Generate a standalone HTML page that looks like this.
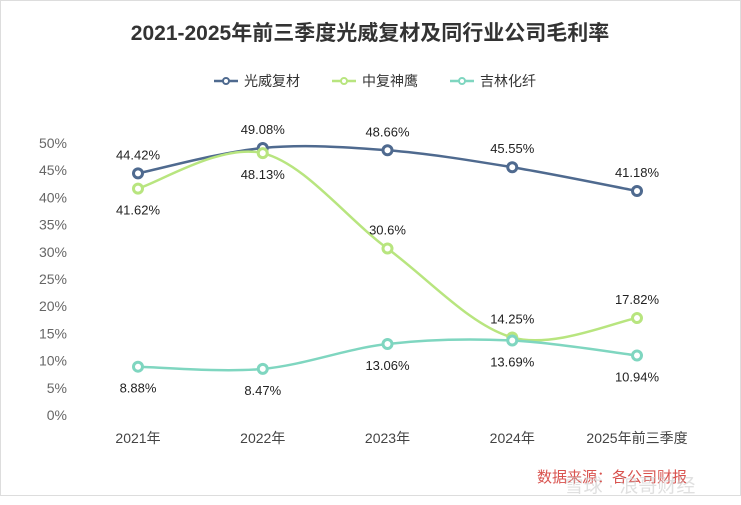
<!DOCTYPE html>
<html><head><meta charset="utf-8"><style>
body{margin:0;background:#fff;}
svg{display:block;font-family:"Liberation Sans","Noto Sans CJK SC",sans-serif;}
</style></head><body>
<svg id="chart" width="741" height="505">
<rect x="0.5" y="0.5" width="740" height="495" fill="#fff" stroke="#ddd"/>
<text x="370" y="40" text-anchor="middle" font-size="21" font-weight="bold" fill="#333">2021-2025年前三季度光威复材及同行业公司毛利率</text>
<g id="legend"></g>
<g id="yaxis"></g>
<g id="xaxis"></g>
<g id="series"></g>
<text x="612" y="482" text-anchor="middle" font-size="15" fill="#d9534f">数据来源：各公司财报</text>
<text x="630" y="492" text-anchor="middle" font-size="19" fill="#ccc" opacity="0.6">雪球 · 浪哥财经</text>
</svg>
<script>
const categories=["2021年","2022年","2023年","2024年","2025年前三季度"];
const names=["光威复材","中复神鹰","吉林化纤"];
const s1=[44.42,49.08,48.66,45.55,41.18];
const s2=[41.62,48.13,30.6,14.25,17.82];
const s3=[8.88,8.47,13.06,13.69,10.94];
const yTicks=[0,5,10,15,20,25,30,35,40,45,50];
const colors=["#4f6a8f","#b8e57f","#7fd6c0"];
const NS="http://www.w3.org/2000/svg";
const X=i=>138+i*124.75;
const Y=v=>415-v*5.44;
function mk(tag,attrs,parent,txt){const e=document.createElementNS(NS,tag);for(const k in attrs)e.setAttribute(k,attrs[k]);if(txt!==undefined)e.textContent=txt;parent.appendChild(e);return e;}
const ya=document.getElementById('yaxis'),xa=document.getElementById('xaxis'),sg=document.getElementById('series'),lg=document.getElementById('legend');
yTicks.forEach(t=>{const e=mk('text',{x:67,y:Y(t)+5,'text-anchor':'end','font-size':14,fill:'#666'},ya,t+'%');

});
categories.forEach((c,i)=>{const e=mk('text',{x:X(i),y:443,'text-anchor':'middle','font-size':14,fill:'#444'},xa,c);

});
function crPath(pts){const n=pts.length;let p='M'+pts[0][0]+','+pts[0][1];
for(let i=0;i<n-1;i++){const p0=pts[Math.max(i-1,0)],p1=pts[i],p2=pts[i+1],p3=pts[Math.min(i+2,n-1)];
const c1=[p1[0]+(p2[0]-p0[0])/6,p1[1]+(p2[1]-p0[1])/6],c2=[p2[0]-(p3[0]-p1[0])/6,p2[1]-(p3[1]-p1[1])/6];
p+=' C'+c1[0]+','+c1[1]+' '+c2[0]+','+c2[1]+' '+p2[0]+','+p2[1];}return p;}
const all=[s1,s2,s3];
const labelPos=[[-1,-1,-1,-1,-1],[1,1,-1,-1,-1],[1,1,1,1,1]];
all.forEach((s,k)=>{const pts=s.map((v,i)=>[X(i),Y(v)]);
const p=mk('path',{d:crPath(pts),fill:'none',stroke:colors[k],'stroke-width':2.5},sg);

});
all.forEach((s,k)=>{s.forEach((v,i)=>{const c=mk('circle',{cx:X(i),cy:Y(v),r:4.5,fill:'#fff',stroke:colors[k],'stroke-width':3},sg);


const dy=labelPos[k][i]<0?-14:26;
const t=mk('text',{x:X(i),y:Y(v)+dy,'text-anchor':'middle','font-size':13,fill:'#222'},sg,v+'%');

});});
names.forEach((n,k)=>{const x0=214+k*118;
const l=mk('line',{x1:x0,y1:81,x2:x0+24,y2:81,stroke:colors[k],'stroke-width':2.5},lg);


const c=mk('circle',{cx:x0+12,cy:81,r:3,fill:'#fff',stroke:colors[k],'stroke-width':2},lg);


const t=mk('text',{x:x0+30,y:86,'font-size':14,fill:'#333'},lg,n);

});
</script>
</body></html>
